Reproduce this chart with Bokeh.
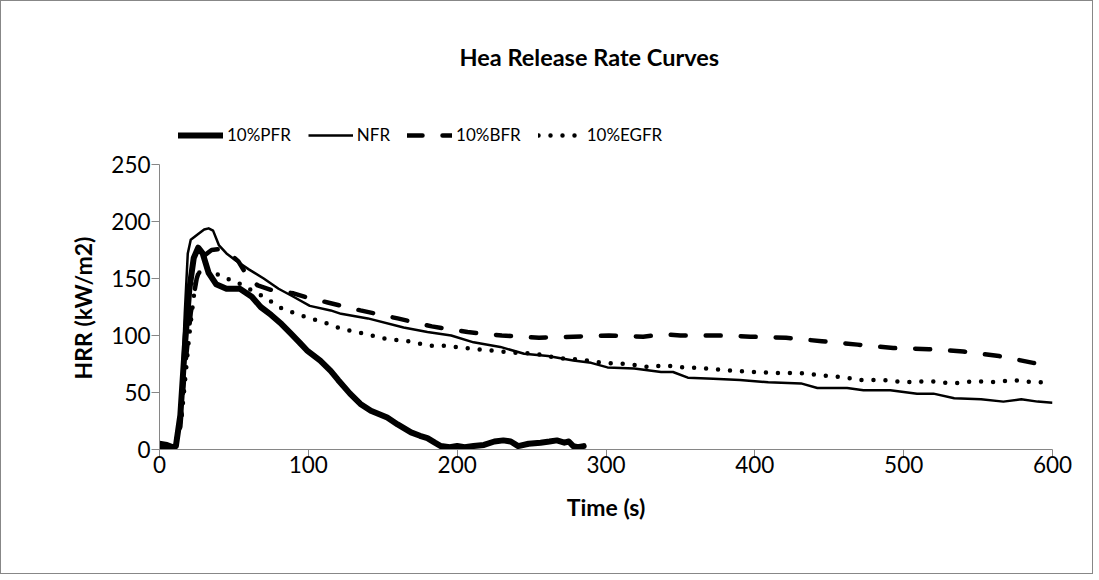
from bokeh.plotting import figure
from bokeh.models import Range1d, Legend, LegendItem, FixedTicker, Title
from bokeh.embed import file_html
from bokeh.resources import INLINE

# ---- data ----
pfr_t = [0, 5, 9, 11, 14, 17, 20, 23, 26, 29, 33, 38, 45, 54, 62, 68, 75, 82, 88, 94,
         99, 108, 115, 120, 128, 135, 142, 153, 160, 169, 175, 180, 185, 189, 195, 200, 205, 211, 218, 225,
         231, 236, 241, 248, 256, 262, 267, 272, 275, 278, 281, 285]
pfr_v = [5, 4, 2, 3, 30, 90, 140, 168, 177, 172, 155, 145, 141, 141, 134, 125, 118, 110, 102, 94,
         87, 78, 69, 61, 49, 40, 34, 28, 22, 15, 12, 10, 6, 3, 2, 3, 2, 3, 4, 7,
         8, 7, 3, 5, 6, 7, 8, 6, 7, 3, 2, 3]

nfr_t = [0, 5, 10, 13, 15, 17, 19, 21, 26, 30, 33, 36, 40, 45, 51, 60, 70, 80, 90, 101,
         115, 122, 140, 164, 180, 196, 211, 229, 245, 261, 278, 290, 301, 319, 337, 345, 355, 372, 390, 409,
         431, 442, 462, 473, 491, 509, 520, 534, 552, 567, 579, 590, 600]
nfr_v = [1, 1, 2, 20, 58, 120, 172, 184, 189, 193, 194, 192, 179, 172, 166, 158, 150, 141, 134, 126,
         122, 119, 115, 107, 103, 100, 94, 90, 84, 82, 78, 76, 72, 71, 68, 68, 63, 62, 61, 59,
         58, 54, 54, 52, 52, 49, 49, 45, 44, 42, 44, 42, 41]

bfr_t = [0, 5, 10, 14, 17, 21, 25, 30, 35, 41, 47, 53, 60, 66, 75, 90, 100, 113, 135, 160,
         183, 207, 230, 255, 278, 302, 325, 340, 350, 375, 397, 421, 445, 469, 493, 517, 540, 564, 587, 600]
bfr_v = [1, 1, 2, 20, 70, 120, 150, 170, 175, 176, 172, 165, 150, 144, 140, 137, 133, 129, 122, 115,
         108, 103, 100, 98, 99, 100, 99, 101, 100, 100, 99, 98, 95, 92, 89, 88, 86, 82, 76, 74]

egfr_t = [0, 5, 10, 15, 20, 24, 28, 35, 42, 50, 60, 70, 83, 99, 114, 122, 136, 152, 167, 182,
          191, 206, 221, 237, 253, 268, 283, 298, 314, 330, 338, 353, 369, 385, 400, 416, 431, 446, 462, 470,
          486, 501, 517, 533, 548, 564, 572, 587, 600]
egfr_v = [1, 1, 2, 30, 100, 145, 160, 157, 151, 148, 141, 134, 123, 116, 110, 106, 102, 97, 95, 91,
          91, 89, 87, 85, 84, 80, 79, 76, 75, 72, 74, 72, 71, 69, 68, 67, 67, 65, 63, 61,
          61, 59, 60, 58, 60, 59, 61, 59, 59]

series_names = ["10%PFR", "NFR", "10%BFR", "10%EGFR"]
x_ticks = [0, 100, 200, 300, 400, 500, 600]
y_ticks = [0, 50, 100, 150, 200, 250]

FONT = "Lato"
AXIS_GREY = "#868686"

# layout (pixels): the value axis spans 0..250 over 285 px; the frame is extended
# upward (without axis line) so the legend can sit inside it above the curves.
W, H = 1093, 574
BORDER_L, BORDER_R, BORDER_T, BORDER_B = 158, 42, 95, 126
PX_FOR_AXIS = 285
frame_h = H - BORDER_T - BORDER_B
y_top = y_ticks[-1] * frame_h / PX_FOR_AXIS

p = figure(width=W, height=H, output_backend="svg", toolbar_location=None,
           x_range=Range1d(0, 600), y_range=Range1d(0, y_top),
           min_border_left=BORDER_L, min_border_right=BORDER_R,
           min_border_top=BORDER_T, min_border_bottom=BORDER_B,
           background_fill_color="white", border_fill_color="white")
p.styles = {"border": "1px solid #878787"}

p.title.text = "Hea Release Rate Curves"
p.title.align = "left"
p.title.offset = 300
p.title.standoff = 51
p.title.text_font = FONT
p.title.text_font_size = "23.5px"
p.title.text_font_style = "bold"
p.title.text_color = "black"

p.outline_line_color = None
p.xgrid.grid_line_color = None
p.ygrid.grid_line_color = None

for ax in (p.xaxis[0], p.yaxis[0]):
    ax.axis_line_color = AXIS_GREY
    ax.major_tick_line_color = AXIS_GREY
    ax.minor_tick_line_color = None
    ax.major_tick_in = 0
    ax.major_tick_out = 8
    ax.major_label_text_font = FONT
    ax.major_label_text_font_size = "22.5px"
    ax.major_label_text_color = "black"
    ax.axis_label_text_font = FONT
    ax.axis_label_text_font_size = "23px"
    ax.axis_label_text_font_style = "bold"
    ax.axis_label_text_color = "black"

p.xaxis.ticker = FixedTicker(ticks=x_ticks)
p.yaxis.ticker = FixedTicker(ticks=y_ticks)
p.yaxis.bounds = (y_ticks[0], y_ticks[-1])
p.xaxis.axis_label = "Time (s)"
p.xaxis.major_label_standoff = -2
p.yaxis.major_label_standoff = 1
p.xaxis.axis_label_standoff = 17

# y-axis title, centred on the 0..250 part of the axis
ytitle = Title(text="HRR (kW/m2)", align="left", offset=70, standoff=24,
               text_font=FONT, text_font_size="23px", text_font_style="bold", text_color="black")
p.add_layout(ytitle, "left")

r_pfr = p.line(pfr_t, pfr_v, line_color="black", line_width=6, line_join="round", line_cap="round")
r_nfr = p.line(nfr_t, nfr_v, line_color="black", line_width=2.5, line_join="round")
r_bfr = p.line(bfr_t, bfr_v, line_color="black", line_width=4.5, line_dash="15 20",
               line_cap="round", line_join="round")
r_egfr = p.line(egfr_t, egfr_v, line_color="black", line_width=4.5, line_dash="0 12",
                line_cap="round", line_join="round")

legend = Legend(items=[LegendItem(label=n, renderers=[r]) for n, r in
                       zip(series_names, [r_pfr, r_nfr, r_bfr, r_egfr])],
                orientation="horizontal", location=(19, 304),
                glyph_width=45, glyph_height=20, label_height=20, label_standoff=4,
                spacing=17, padding=0, margin=0,
                label_text_font=FONT, label_text_font_size="17px", label_text_color="black",
                border_line_color=None, background_fill_alpha=0)
p.add_layout(legend, "center")

open("out.html", "w").write(file_html(p, INLINE))
